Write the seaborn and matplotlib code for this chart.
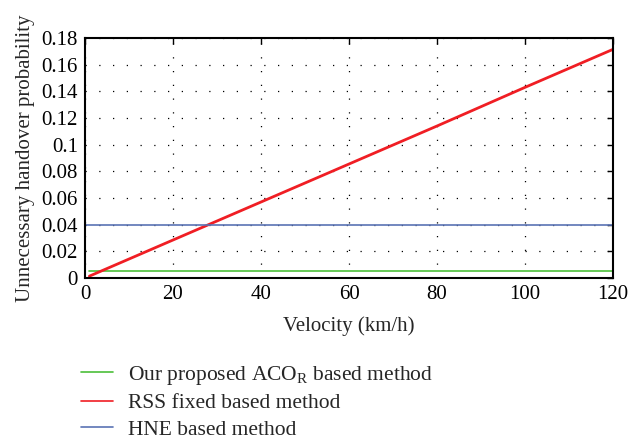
import matplotlib
matplotlib.use("Agg")
import matplotlib.pyplot as plt
import seaborn as sns
import pandas as pd

velocity = [1, 20, 40, 60, 80, 100, 120]
aco_r = [0.005, 0.005, 0.005, 0.005, 0.005, 0.005, 0.005]
rss_fixed = [0.0014, 0.0285, 0.057, 0.0855, 0.114, 0.143, 0.1715]
hne_velocity = [0, 20, 40, 60, 80, 100, 120]
hne = [0.04, 0.04, 0.04, 0.04, 0.04, 0.04, 0.04]

labels = ["Our proposed ACO$_\\mathrm{R}$ based method",
          "RSS fixed based method",
          "HNE based method"]
colors = ["#4cbf3a", "#f01e24", "#5a73b4"]
xticks = [0, 20, 40, 60, 80, 100, 120]
yticks = [0, 0.02, 0.04, 0.06, 0.08, 0.1, 0.12, 0.14, 0.16, 0.18]
ytick_labels = ["0", "0.02", "0.04", "0.06", "0.08", "0.1", "0.12", "0.14", "0.16", "0.18"]

df = pd.concat([
    pd.DataFrame({"v": velocity, "p": aco_r, "method": labels[0]}),
    pd.DataFrame({"v": velocity, "p": rss_fixed, "method": labels[1]}),
    pd.DataFrame({"v": hne_velocity, "p": hne, "method": labels[2]}),
])

sns.set_style("white")
plt.rcParams["font.family"] = ["Liberation Serif", "DejaVu Serif"]
plt.rcParams["mathtext.fontset"] = "custom"
plt.rcParams["mathtext.rm"] = "Liberation Serif"
plt.rcParams["mathtext.it"] = "Liberation Serif:italic"

fig = plt.figure(figsize=(6.31, 4.41), dpi=100)
ax = fig.add_axes([0.1347, 0.3696, 0.8368, 0.5442])

sns.lineplot(data=df, x="v", y="p", hue="method", palette=dict(zip(labels, colors)),
             ax=ax, legend=False, estimator=None, sort=False)
lines = ax.get_lines()
widths = [1.2, 2.0, 1.2]
for ln, w in zip(lines, widths):
    ln.set_linewidth(w)

ax.set_xlim(0, 120)
ax.set_ylim(0, 0.18)
ax.set_xticks(xticks)
ax.set_yticks(yticks)
ax.set_yticklabels(ytick_labels)
ax.tick_params(direction="in", top=True, right=True, length=4, width=1.0,
               labelsize=15, colors="black", pad=5)
ax.grid(True, color="black", linestyle=(0, (1, 10)), linewidth=0.9)
for s in ax.spines.values():
    s.set_linewidth(1.5)
    s.set_color("black")
ax.set_xlabel("Velocity (km/h)", fontsize=15, labelpad=9)
ax.set_ylabel("Unnecessary handover probability", fontsize=15, labelpad=5)

handles = [plt.Line2D([], [], color=c, linewidth=1.2) for c in colors]
fig.legend(handles, labels, loc="upper left", bbox_to_anchor=(0.128, 0.175),
           frameon=False, fontsize=15.5, handlelength=1.5, handletextpad=0.7,
           labelspacing=0.3, borderaxespad=0, borderpad=0)

fig.savefig("out.png", dpi=100)
